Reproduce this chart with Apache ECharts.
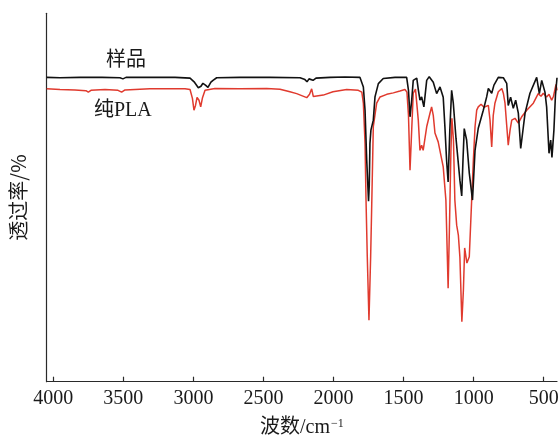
<!DOCTYPE html>
<html>
<head>
<meta charset="utf-8">
<script src="https://cdn.jsdelivr.net/npm/echarts@6/dist/echarts.min.js"></script>
<style>
html,body{margin:0;padding:0;background:#fff;}
#chart{width:559px;height:446px;}
</style>
</head>
<body>
<div id="chart"></div>
<script>
// Tick labels of the wavenumber axis
const xTicks = [4000, 3500, 3000, 2500, 2000, 1500, 1000, 500];

// Sample (样品) spectrum: wavenumber (cm-1) and transmittance (%)
const sampleWn = [4047,3952,3809,3681,3667,3652,3524,3503,3481,3310,3131,3024,2995,2965,2946,2932,2914,2896,2875,2860,2834,2668,2453,2239,2204,2189,2175,2146,2125,2025,1918,1811,1797,1787,1775,1763,1750,1745,1740,1733,1716,1704,1680,1645,1561,1478,1465,1454,1442,1431,1406,1394,1383,1371,1355,1335,1317,1288,1264,1240,1217,1205,1193,1182,1170,1157,1145,1126,1114,1098,1085,1076,1067,1050,1031,1008,990,967,931,907,895,871,855,824,788,764,753,736,717,700,681,664,645,633,598,550,531,514,491,479,462,450,441,427,416,405];
const sampleT = [82.6,82.5,82.6,82.6,82.1,82.6,82.5,82.2,82.6,82.6,82.6,82.4,81.4,79.8,80.2,81.0,80.5,79.9,81.3,81.8,82.5,82.6,82.6,82.5,82.0,81.4,82.2,81.8,82.4,82.6,82.7,82.6,82.1,80.0,73.7,60.1,49.0,53.3,64.7,68.3,71.0,77.3,80.9,82.3,82.6,82.6,79.1,71.9,76.4,81.8,82.4,79.1,76.4,77.3,74.6,81.8,82.8,81.3,78.2,80.0,77.2,69.2,60.1,54.2,68.3,79.1,75.6,66.1,66.4,54.7,50.4,60.1,68.7,65.6,56.6,49.3,62.8,68.8,73.7,77.3,79.6,78.3,80.5,82.6,82.5,81.0,75.0,77.2,74.2,76.4,72.9,63.3,69.2,72.9,78.3,82.6,78.2,81.8,78.6,74.6,62.0,65.6,60.9,68.3,77.8,82.5];

// Pure PLA (纯PLA) spectrum: wavenumber (cm-1) and transmittance (%)
const plaWn = [4047,3952,3845,3767,3750,3731,3631,3538,3512,3488,3310,3060,3024,3007,2996,2985,2974,2960,2948,2935,2917,2846,2668,2477,2382,2311,2263,2191,2171,2156,2144,2073,2004,1906,1823,1798,1787,1775,1768,1759,1747,1735,1728,1716,1692,1668,1620,1573,1526,1490,1476,1465,1454,1442,1431,1415,1395,1383,1371,1360,1335,1312,1300,1288,1276,1253,1240,1217,1198,1187,1182,1173,1162,1155,1144,1134,1121,1109,1098,1084,1073,1064,1048,1031,1014,1002,990,978,967,947,926,895,883,871,860,848,824,799,788,776,764,753,740,728,705,681,657,621,574,539,519,503,479,462,443,430,419,412,405];
const plaT = [79.5,79.3,79.2,79.0,78.6,79.1,79.3,79.1,78.6,79.2,79.5,79.5,79.3,76.9,73.7,75.0,77.2,76.4,74.6,77.1,79.1,79.6,79.5,79.6,79.4,78.7,78.2,77.1,78.0,79.5,77.4,77.8,78.7,79.3,79.1,78.6,75.6,64.7,49.3,33.9,16.7,33.9,46.6,69.2,75.6,77.3,78.0,78.4,78.9,79.3,78.6,72.3,57.4,68.3,78.3,79.4,71.0,62.8,64.2,62.8,69.2,72.8,74.6,72.3,67.5,65.1,65.6,58.3,49.3,33.0,25.4,41.1,62.8,71.5,65.6,49.3,42.5,39.8,33.8,16.3,24.9,36.3,32.2,33.9,49.3,60.1,69.2,73.7,74.6,75.3,74.5,75.0,71.0,63.7,72.3,75.6,78.7,79.6,78.3,75.6,69.6,64.2,68.3,71.0,71.5,70.2,71.9,73.7,75.6,78.2,77.5,78.3,77.3,78.0,76.4,77.5,77.3,80.7,79.1];

const serif = '"Liberation Serif", "Times New Roman", "Noto Sans CJK SC", serif';
const cjk = '"Noto Sans CJK SC", "Liberation Serif", sans-serif';

const pairs = (xs, ys) => xs.map((x, i) => [x, ys[i]]);

const chart = echarts.init(document.getElementById('chart'), null, {renderer: 'canvas'});
chart.setOption({
  animation: false,
  backgroundColor: '#ffffff',
  grid: {left: 46.7, right: 2, top: 13.3, bottom: 64.3, containLabel: false, outerBoundsMode: 'none'},
  xAxis: {
    type: 'value',
    inverse: true,
    min: 405,
    max: 4047,
    axisLine: {show: true, lineStyle: {color: '#2a2a2a', width: 1.2}},
    axisTick: {show: true, inside: true, length: 5, customValues: xTicks, lineStyle: {color: '#2a2a2a', width: 1.2}},
    axisLabel: {customValues: xTicks, formatter: v => String(v), fontFamily: serif, fontSize: 20, color: '#1a1a1a', margin: 7, hideOverlap: false},
    splitLine: {show: false},
    name: '{a|波数/cm}{b|−1}',
    nameLocation: 'middle',
    nameGap: 36,
    nameTextStyle: {
      rich: {
        a: {fontFamily: serif, fontSize: 20, color: '#1a1a1a'},
        b: {fontFamily: serif, fontSize: 12, color: '#1a1a1a', verticalAlign: 'top', padding: [0, 0, 8, 1]}
      }
    }
  },
  yAxis: {
    type: 'value',
    min: 0,
    max: 100,
    axisLine: {show: true, lineStyle: {color: '#2a2a2a', width: 1.2}},
    axisTick: {show: false},
    axisLabel: {show: false},
    splitLine: {show: false},
    name: '透过率/%',
    nameLocation: 'middle',
    nameRotate: 90,
    nameGap: 18,
    nameTextStyle: {fontFamily: cjk, fontSize: 20, color: '#1a1a1a'}
  },
  series: [
    {
      name: '纯PLA',
      type: 'line',
      data: pairs(plaWn, plaT),
      showSymbol: false,
      lineStyle: {color: '#e03a2e', width: 1.5},
      itemStyle: {color: '#e03a2e'},
      z: 2
    },
    {
      name: '样品',
      type: 'line',
      data: pairs(sampleWn, sampleT),
      showSymbol: false,
      lineStyle: {color: '#111111', width: 1.6},
      itemStyle: {color: '#111111'},
      z: 3
    }
  ],
  graphic: [
    {type: 'text', left: 106, top: 48, style: {text: '样品', font: '20px ' + cjk, fill: '#1a1a1a'}},
    {type: 'text', left: 94, top: 101, style: {text: '纯PLA', font: '20px ' + serif, fill: '#1a1a1a'}}
  ]
});
</script>
</body>
</html>
